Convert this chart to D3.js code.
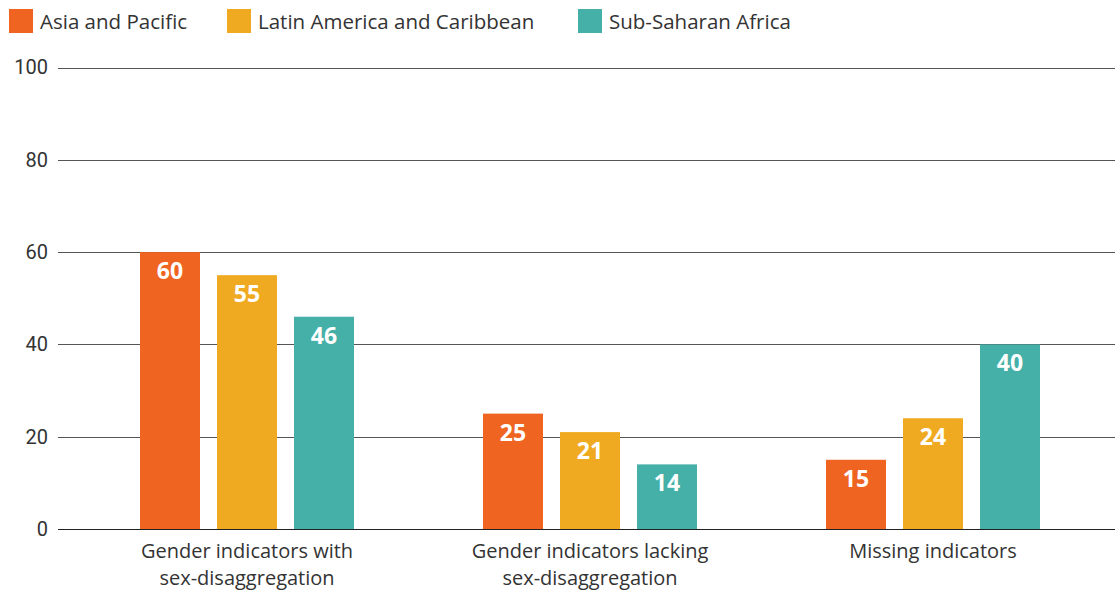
<!DOCTYPE html>
<html><head><meta charset="utf-8">
<script src="https://cdn.jsdelivr.net/npm/d3@7"></script>
<style>body{margin:0;background:#fff}svg{display:block}</style>
</head><body>
<svg id="c" width="1115" height="590"></svg>
<script>
const categories = [["Gender indicators with","sex-disaggregation"],["Gender indicators lacking","sex-disaggregation"],["Missing indicators"]];
const categoryKeys = ["with","lacking","missing"];
const seriesNames = ["Asia and Pacific","Latin America and Caribbean","Sub-Saharan Africa"];
const seriesColors = ["#EF6421","#EFAA22","#45B0A7"];
const asiaPacific = [60,25,15];
const latinAmerica = [55,21,24];
const subSaharan = [46,14,40];
const yTicks = [0,20,40,60,80,100];

const seriesValues = [asiaPacific, latinAmerica, subSaharan];
const svg = d3.select("#c");
const W = 1115;
const y = d3.scaleLinear().domain([0,100]).range([529,67.5]);
const x0 = d3.scaleBand().domain(categoryKeys).range([75.5,1104.5]).padding(0);
const x1 = d3.scaleBand().domain(seriesNames).range([64.5,278.5]).paddingInner(17/77).paddingOuter(0);
const txtFont = "'Open Sans', sans-serif";

// grid
const yAxis = d3.axisLeft(y).tickValues(yTicks).tickSize(0).tickPadding(10);
const gAxis = svg.append("g").attr("transform","translate(58,0)").call(yAxis);
gAxis.select(".domain").remove();
gAxis.selectAll("text").attr("font-family","Roboto, 'Liberation Sans', sans-serif").attr("font-size",20).attr("fill","#333");
svg.append("g").selectAll("line").data(yTicks).join("line")
  .attr("x1",58).attr("x2",W).attr("y1",d=>Math.round(y(d))+0.5).attr("y2",d=>Math.round(y(d))+0.5)
  .attr("stroke",d=>d===0?"#222":"#555").attr("stroke-width",1);

// bars
const groups = svg.append("g").selectAll("g").data(categoryKeys).join("g")
  .attr("transform",d=>`translate(${x0(d)},0)`);
groups.each(function(k,ci){
  const g = d3.select(this);
  const data = seriesNames.map((s,si)=>({s,si,v:seriesValues[si][ci]}));
  g.selectAll("rect").data(data).join("rect")
    .attr("x",d=>x1(d.s)).attr("width",x1.bandwidth())
    .attr("y",d=>y(d.v)).attr("height",d=>y(0)-y(d.v))
    .attr("fill",d=>seriesColors[d.si]);
  g.selectAll("text.v").data(data).join("text").attr("class","v")
    .attr("x",d=>x1(d.s)+x1.bandwidth()/2).attr("y",d=>y(d.v)+27)
    .attr("text-anchor","middle").attr("font-family",txtFont).attr("font-weight","bold")
    .attr("font-size",23).attr("fill","#fff").text(d=>d.v);
  const lab = g.append("text").attr("text-anchor","middle").attr("font-family",txtFont)
    .attr("font-size",20).attr("fill","#333");
  categories[ci].forEach((line,li)=>{
    lab.append("tspan").attr("x",x0.bandwidth()/2).attr("y",558+li*27).text(line);
  });
});

// legend
const legX = [9,227,578];
const leg = svg.append("g").selectAll("g").data(seriesNames).join("g")
  .attr("transform",(d,i)=>`translate(${legX[i]},9)`);
leg.append("rect").attr("width",24).attr("height",24).attr("fill",(d,i)=>seriesColors[i]);
leg.append("text").attr("x",31).attr("y",19.5).attr("font-family",txtFont).attr("font-size",20.5)
  .attr("fill","#333").text(d=>d);
</script>
</body></html>
